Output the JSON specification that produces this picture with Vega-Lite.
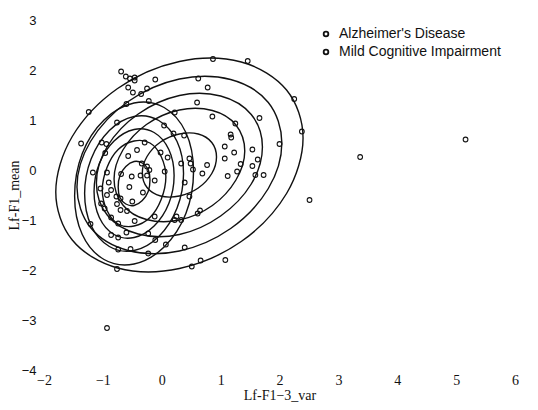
{
  "$schema": "https://vega.github.io/schema/vega-lite/v6.json",
  "width": 471,
  "height": 350,
  "autosize": "none",
  "padding": {"left": 44, "top": 20, "right": 23, "bottom": 40},
  "background": "white",
  "config": {
    "view": {"stroke": null},
    "axis": {"domain": false, "ticks": false, "grid": false, "labelColor": "#111", "titleColor": "#111", "labelFlush": false}
  },
  "datasets": {
    "ell": [
      {"e":"R1","i":0,"x":2.40,"y":0.64},{"e":"R1","i":1,"x":2.12,"y":1.60},{"e":"R1","i":2,"x":1.35,"y":2.16},{"e":"R1","i":3,"x":0.30,"y":2.17},{"e":"R1","i":4,"x":-0.75,"y":1.63},{"e":"R1","i":5,"x":-1.52,"y":0.67},{"e":"R1","i":6,"x":-1.80,"y":-0.44},{"e":"R1","i":7,"x":-1.52,"y":-1.40},{"e":"R1","i":8,"x":-0.75,"y":-1.96},{"e":"R1","i":9,"x":0.30,"y":-1.97},{"e":"R1","i":10,"x":1.35,"y":-1.43},{"e":"R1","i":11,"x":2.12,"y":-0.47},
      {"e":"R2","i":0,"x":2.04,"y":0.54},{"e":"R2","i":1,"x":1.81,"y":1.35},{"e":"R2","i":2,"x":1.17,"y":1.81},{"e":"R2","i":3,"x":0.30,"y":1.82},{"e":"R2","i":4,"x":-0.57,"y":1.37},{"e":"R2","i":5,"x":-1.21,"y":0.57},{"e":"R2","i":6,"x":-1.44,"y":-0.34},{"e":"R2","i":7,"x":-1.21,"y":-1.15},{"e":"R2","i":8,"x":-0.57,"y":-1.61},{"e":"R2","i":9,"x":0.30,"y":-1.62},{"e":"R2","i":10,"x":1.17,"y":-1.17},{"e":"R2","i":11,"x":1.81,"y":-0.37},
      {"e":"R3","i":0,"x":1.71,"y":0.46},{"e":"R3","i":1,"x":1.52,"y":1.11},{"e":"R3","i":2,"x":1.00,"y":1.48},{"e":"R3","i":3,"x":0.30,"y":1.49},{"e":"R3","i":4,"x":-0.40,"y":1.12},{"e":"R3","i":5,"x":-0.92,"y":0.48},{"e":"R3","i":6,"x":-1.11,"y":-0.26},{"e":"R3","i":7,"x":-0.92,"y":-0.91},{"e":"R3","i":8,"x":-0.40,"y":-1.28},{"e":"R3","i":9,"x":0.30,"y":-1.29},{"e":"R3","i":10,"x":1.00,"y":-0.92},{"e":"R3","i":11,"x":1.52,"y":-0.28},
      {"e":"R4","i":0,"x":1.41,"y":0.38},{"e":"R4","i":1,"x":1.26,"y":0.90},{"e":"R4","i":2,"x":0.86,"y":1.19},{"e":"R4","i":3,"x":0.30,"y":1.20},{"e":"R4","i":4,"x":-0.26,"y":0.91},{"e":"R4","i":5,"x":-0.66,"y":0.40},{"e":"R4","i":6,"x":-0.81,"y":-0.18},{"e":"R4","i":7,"x":-0.66,"y":-0.70},{"e":"R4","i":8,"x":-0.26,"y":-0.99},{"e":"R4","i":9,"x":0.30,"y":-1.00},{"e":"R4","i":10,"x":0.86,"y":-0.71},{"e":"R4","i":11,"x":1.26,"y":-0.20},
      {"e":"R5","i":0,"x":0.93,"y":0.26},{"e":"R5","i":1,"x":0.85,"y":0.55},{"e":"R5","i":2,"x":0.62,"y":0.72},{"e":"R5","i":3,"x":0.30,"y":0.72},{"e":"R5","i":4,"x":-0.02,"y":0.56},{"e":"R5","i":5,"x":-0.25,"y":0.27},{"e":"R5","i":6,"x":-0.33,"y":-0.06},{"e":"R5","i":7,"x":-0.25,"y":-0.35},{"e":"R5","i":8,"x":-0.02,"y":-0.52},{"e":"R5","i":9,"x":0.30,"y":-0.52},{"e":"R5","i":10,"x":0.62,"y":-0.36},{"e":"R5","i":11,"x":0.85,"y":-0.07},
      {"e":"L1","i":0,"x":0.54,"y":-0.03},{"e":"L1","i":1,"x":0.41,"y":0.75},{"e":"L1","i":2,"x":0.04,"y":1.25},{"e":"L1","i":3,"x":-0.47,"y":1.34},{"e":"L1","i":4,"x":-0.98,"y":1.00},{"e":"L1","i":5,"x":-1.35,"y":0.33},{"e":"L1","i":6,"x":-1.48,"y":-0.52},{"e":"L1","i":7,"x":-1.35,"y":-1.29},{"e":"L1","i":8,"x":-0.98,"y":-1.79},{"e":"L1","i":9,"x":-0.47,"y":-1.88},{"e":"L1","i":10,"x":0.04,"y":-1.54},{"e":"L1","i":11,"x":0.41,"y":-0.87},
      {"e":"L2","i":0,"x":0.37,"y":-0.07},{"e":"L2","i":1,"x":0.26,"y":0.57},{"e":"L2","i":2,"x":-0.05,"y":0.99},{"e":"L2","i":3,"x":-0.47,"y":1.07},{"e":"L2","i":4,"x":-0.89,"y":0.79},{"e":"L2","i":5,"x":-1.20,"y":0.22},{"e":"L2","i":6,"x":-1.31,"y":-0.47},{"e":"L2","i":7,"x":-1.20,"y":-1.11},{"e":"L2","i":8,"x":-0.89,"y":-1.53},{"e":"L2","i":9,"x":-0.47,"y":-1.61},{"e":"L2","i":10,"x":-0.05,"y":-1.33},{"e":"L2","i":11,"x":0.26,"y":-0.76},
      {"e":"L3","i":0,"x":0.21,"y":-0.11},{"e":"L3","i":1,"x":0.12,"y":0.41},{"e":"L3","i":2,"x":-0.13,"y":0.75},{"e":"L3","i":3,"x":-0.47,"y":0.81},{"e":"L3","i":4,"x":-0.81,"y":0.58},{"e":"L3","i":5,"x":-1.06,"y":0.13},{"e":"L3","i":6,"x":-1.15,"y":-0.43},{"e":"L3","i":7,"x":-1.06,"y":-0.95},{"e":"L3","i":8,"x":-0.81,"y":-1.29},{"e":"L3","i":9,"x":-0.47,"y":-1.35},{"e":"L3","i":10,"x":-0.13,"y":-1.12},{"e":"L3","i":11,"x":0.12,"y":-0.67},
      {"e":"L4","i":0,"x":0.07,"y":-0.14},{"e":"L4","i":1,"x":-0.01,"y":0.27},{"e":"L4","i":2,"x":-0.20,"y":0.54},{"e":"L4","i":3,"x":-0.47,"y":0.58},{"e":"L4","i":4,"x":-0.74,"y":0.41},{"e":"L4","i":5,"x":-0.93,"y":0.05},{"e":"L4","i":6,"x":-1.01,"y":-0.40},{"e":"L4","i":7,"x":-0.93,"y":-0.81},{"e":"L4","i":8,"x":-0.74,"y":-1.08},{"e":"L4","i":9,"x":-0.47,"y":-1.12},{"e":"L4","i":10,"x":-0.20,"y":-0.95},{"e":"L4","i":11,"x":-0.01,"y":-0.59},
      {"e":"L5","i":0,"x":-0.20,"y":-0.20},{"e":"L5","i":1,"x":-0.23,"y":0.01},{"e":"L5","i":2,"x":-0.33,"y":0.14},{"e":"L5","i":3,"x":-0.47,"y":0.17},{"e":"L5","i":4,"x":-0.61,"y":0.07},{"e":"L5","i":5,"x":-0.71,"y":-0.11},{"e":"L5","i":6,"x":-0.74,"y":-0.34},{"e":"L5","i":7,"x":-0.71,"y":-0.55},{"e":"L5","i":8,"x":-0.61,"y":-0.68},{"e":"L5","i":9,"x":-0.47,"y":-0.71},{"e":"L5","i":10,"x":-0.33,"y":-0.61},{"e":"L5","i":11,"x":-0.23,"y":-0.43}
    ],
    "pts": [
      {"x":0.87,"y":2.22,"g":"MCI"},{"x":1.46,"y":2.18,"g":"MCI"},{"x":-0.69,"y":1.97,"g":"AD"},{"x":-0.61,"y":1.87,"g":"AD"},{"x":-0.54,"y":1.83,"g":"AD"},{"x":-0.46,"y":1.85,"g":"AD"},{"x":-0.46,"y":1.79,"g":"AD"},{"x":-0.11,"y":1.81,"g":"MCI"},{"x":0.62,"y":1.83,"g":"MCI"},{"x":-0.57,"y":1.65,"g":"AD"},
      {"x":-0.25,"y":1.63,"g":"AD"},{"x":0.78,"y":1.65,"g":"MCI"},{"x":-0.49,"y":1.55,"g":"AD"},{"x":-0.35,"y":1.52,"g":"AD"},{"x":-0.22,"y":1.38,"g":"AD"},{"x":0.6,"y":1.35,"g":"MCI"},{"x":2.25,"y":1.42,"g":"MCI"},{"x":-0.6,"y":1.32,"g":"AD"},{"x":-1.24,"y":1.16,"g":"AD"},{"x":0.22,"y":1.15,"g":"MCI"},
      {"x":0.86,"y":1.07,"g":"MCI"},{"x":1.66,"y":1.04,"g":"MCI"},{"x":-0.76,"y":0.95,"g":"AD"},{"x":1.25,"y":0.93,"g":"MCI"},{"x":0.04,"y":0.89,"g":"MCI"},{"x":2.38,"y":0.77,"g":"MCI"},{"x":0.2,"y":0.73,"g":"MCI"},{"x":0.38,"y":0.69,"g":"MCI"},{"x":1.17,"y":0.71,"g":"MCI"},{"x":1.18,"y":0.65,"g":"MCI"},
      {"x":-1.37,"y":0.53,"g":"AD"},{"x":-1.02,"y":0.55,"g":"AD"},{"x":-0.94,"y":0.52,"g":"AD"},{"x":-0.29,"y":0.55,"g":"AD"},{"x":2.0,"y":0.52,"g":"MCI"},{"x":1.07,"y":0.47,"g":"MCI"},{"x":1.54,"y":0.41,"g":"MCI"},{"x":-0.42,"y":0.4,"g":"AD"},{"x":-0.96,"y":0.34,"g":"AD"},{"x":-0.02,"y":0.35,"g":"MCI"},
      {"x":1.23,"y":0.35,"g":"MCI"},{"x":-0.57,"y":0.28,"g":"AD"},{"x":0.1,"y":0.25,"g":"MCI"},{"x":1.07,"y":0.23,"g":"MCI"},{"x":1.63,"y":0.21,"g":"MCI"},{"x":0.47,"y":0.23,"g":"MCI"},{"x":3.37,"y":0.26,"g":"MCI"},{"x":5.16,"y":0.61,"g":"MCI"},{"x":0.33,"y":0.13,"g":"MCI"},{"x":-0.34,"y":0.13,"g":"AD"},
      {"x":0.77,"y":0.1,"g":"MCI"},{"x":1.34,"y":0.12,"g":"MCI"},{"x":0.49,"y":0.13,"g":"MCI"},{"x":1.54,"y":0.08,"g":"MCI"},{"x":-0.25,"y":0.07,"g":"AD"},{"x":1.28,"y":-0.03,"g":"MCI"},{"x":-1.17,"y":-0.05,"g":"AD"},{"x":-0.93,"y":-0.05,"g":"AD"},{"x":0.05,"y":-0.03,"g":"MCI"},{"x":0.53,"y":0.01,"g":"MCI"},
      {"x":0.69,"y":-0.07,"g":"MCI"},{"x":1.12,"y":-0.12,"g":"MCI"},{"x":1.59,"y":-0.1,"g":"MCI"},{"x":1.73,"y":-0.1,"g":"MCI"},{"x":-0.69,"y":-0.08,"g":"AD"},{"x":-0.51,"y":-0.13,"g":"AD"},{"x":-0.36,"y":-0.11,"g":"AD"},{"x":-0.25,"y":-0.11,"g":"AD"},{"x":-0.21,"y":0.0,"g":"AD"},{"x":-0.12,"y":-0.21,"g":"MCI"},
      {"x":-0.9,"y":-0.25,"g":"AD"},{"x":0.39,"y":-0.25,"g":"MCI"},{"x":-0.55,"y":-0.34,"g":"AD"},{"x":-1.04,"y":-0.37,"g":"AD"},{"x":-0.86,"y":-0.4,"g":"AD"},{"x":-0.32,"y":-0.45,"g":"AD"},{"x":0.47,"y":-0.53,"g":"MCI"},{"x":-0.93,"y":-0.5,"g":"AD"},{"x":-0.77,"y":-0.53,"g":"AD"},{"x":-0.7,"y":-0.57,"g":"AD"},
      {"x":-0.5,"y":-0.63,"g":"AD"},{"x":2.51,"y":-0.6,"g":"MCI"},{"x":-1.03,"y":-0.67,"g":"AD"},{"x":-0.76,"y":-0.68,"g":"AD"},{"x":-0.97,"y":-0.77,"g":"AD"},{"x":-0.59,"y":-0.82,"g":"AD"},{"x":-0.7,"y":-0.8,"g":"AD"},{"x":0.65,"y":-0.81,"g":"MCI"},{"x":0.61,"y":-0.87,"g":"MCI"},{"x":-0.12,"y":-0.93,"g":"MCI"},
      {"x":0.25,"y":-0.93,"g":"MCI"},{"x":0.22,"y":-1.0,"g":"MCI"},{"x":0.33,"y":-1.0,"g":"MCI"},{"x":-0.86,"y":-0.95,"g":"AD"},{"x":-0.46,"y":-1.02,"g":"AD"},{"x":-1.21,"y":-1.08,"g":"AD"},{"x":-0.74,"y":-1.07,"g":"AD"},{"x":-0.23,"y":-1.27,"g":"AD"},{"x":-0.6,"y":-1.25,"g":"AD"},{"x":-0.86,"y":-1.3,"g":"AD"},
      {"x":-0.74,"y":-1.35,"g":"AD"},{"x":-0.11,"y":-1.4,"g":"MCI"},{"x":0.07,"y":-1.49,"g":"MCI"},{"x":0.39,"y":-1.55,"g":"MCI"},{"x":-0.53,"y":-1.58,"g":"AD"},{"x":-0.74,"y":-1.59,"g":"AD"},{"x":-0.23,"y":-1.67,"g":"AD"},{"x":0.66,"y":-1.81,"g":"MCI"},{"x":1.08,"y":-1.8,"g":"MCI"},{"x":0.51,"y":-1.93,"g":"MCI"},
      {"x":-0.76,"y":-1.98,"g":"AD"},{"x":-0.93,"y":-3.16,"g":"AD"}
    ]
  },
  "layer": [
    {
      "data": {"name": "ell"},
      "mark": {"type": "line", "interpolate": "cardinal-closed", "stroke": "#111", "strokeWidth": 1.4},
      "encoding": {
        "x": {"field": "x", "type": "quantitative", "scale": {"domain": [-2, 6], "nice": false, "zero": false},
          "axis": {"values": [-2,-1,0,1,2,3,4,5,6], "format": "d", "title": "Lf-F1−3_var", "labelFont": "Liberation Serif", "labelFontSize": 14, "labelPadding": 3, "titleFont": "Liberation Serif", "titleFontSize": 14, "titleFontWeight": "normal", "titlePadding": 1}},
        "y": {"field": "y", "type": "quantitative", "scale": {"domain": [-4, 3], "nice": false, "zero": false},
          "axis": {"values": [-4,-3,-2,-1,0,1,2,3], "format": "d", "title": "Lf-F1_mean", "labelFont": "Liberation Sans", "labelFontSize": 13, "labelPadding": 8, "titleFont": "Liberation Serif", "titleFontSize": 14, "titleFontWeight": "normal", "titlePadding": 0}},
        "detail": {"field": "e"},
        "order": {"field": "i", "type": "quantitative"}
      }
    },
    {
      "data": {"name": "pts"},
      "mark": {"type": "point", "shape": "circle", "filled": false, "size": 22, "strokeWidth": 1.1, "opacity": 1},
      "encoding": {
        "x": {"field": "x", "type": "quantitative"},
        "y": {"field": "y", "type": "quantitative"},
        "color": {"field": "g", "type": "nominal",
          "scale": {"domain": ["AD", "MCI"], "range": ["#111", "#111"]},
          "legend": {"title": null, "orient": "none", "legendX": 275, "legendY": 7, "padding": 0, "rowPadding": 4,
            "symbolSize": 22, "symbolStrokeWidth": 1.8, "labelFont": "Liberation Sans", "labelFontSize": 14, "labelColor": "#111", "labelOffset": 6, "labelLimit": 300,
            "labelExpr": "datum.label == 'AD' ? \"Alzheimer's Disease\" : 'Mild Cognitive Impairment'"}}
      }
    }
  ]
}
